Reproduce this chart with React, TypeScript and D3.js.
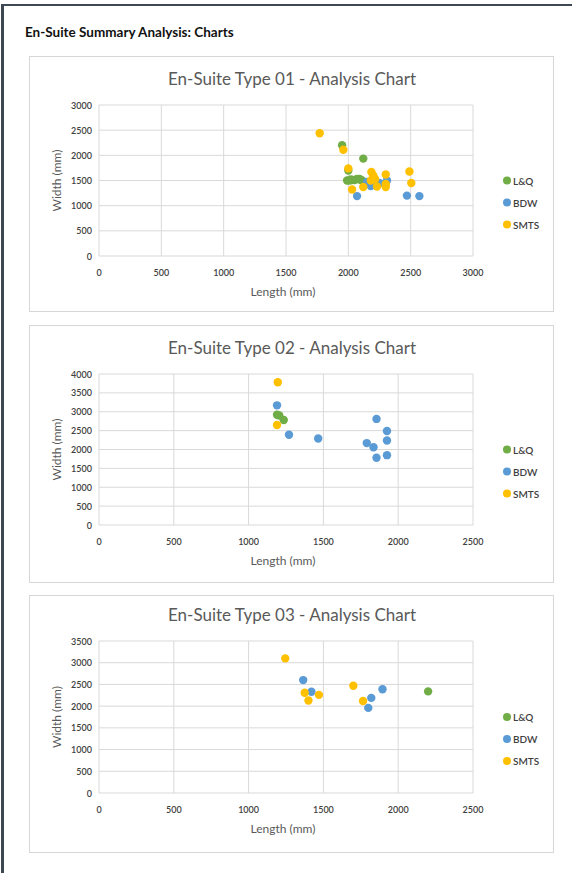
import React from "react";
import * as d3 from "d3";

type Pt = [number, number];

// Series colours and names
const seriesNames = ["L&Q", "BDW", "SMTS"];
const seriesColors = ["#70ad47", "#5b9bd5", "#ffc000"];

// En-Suite Type 01: [length, width] in mm
const type01LQ: Pt[] = [
  [1950, 2200], [2120, 1935], [2000, 1700], [1990, 1500], [2010, 1500], [2030, 1510],
  [2050, 1510], [2070, 1530], [2090, 1530], [2100, 1510], [2110, 1500], [2020, 1520],
];
const type01BDW: Pt[] = [
  [2070, 1190], [2470, 1200], [2570, 1190], [2180, 1390], [2150, 1470], [2200, 1540],
  [2310, 1500], [2250, 1450], [2190, 1420],
];
const type01SMTS: Pt[] = [
  [1770, 2440], [1960, 2110], [2000, 1740], [2030, 1320], [2120, 1370], [2185, 1670],
  [2200, 1570], [2215, 1530], [2180, 1500], [2230, 1380], [2300, 1620], [2300, 1430],
  [2300, 1370], [2490, 1680], [2505, 1450], [2200, 1600],
];

// En-Suite Type 02
const type02LQ: Pt[] = [[1190, 2920], [1205, 2900], [1235, 2780]];
const type02BDW: Pt[] = [
  [1190, 3170], [1270, 2390], [1465, 2290], [1855, 2810], [1925, 2490], [1925, 2240],
  [1790, 2170], [1835, 2060], [1855, 1780], [1925, 1850],
];
const type02SMTS: Pt[] = [[1195, 3780], [1190, 2650]];

// En-Suite Type 03
const type03LQ: Pt[] = [[2200, 2340]];
const type03BDW: Pt[] = [[1365, 2600], [1420, 2330], [1800, 1960], [1820, 2190], [1895, 2390]];
const type03SMTS: Pt[] = [
  [1245, 3100], [1375, 2310], [1400, 2130], [1470, 2260], [1700, 2470], [1765, 2120],
];

// Axis maxima and tick steps
const xMax01 = 3000, yMax01 = 3000;
const xMax02 = 2500, yMax02 = 4000;
const xMax03 = 2500, yMax03 = 3500;
const tickStep = 500;

const FONT = "Lato, 'Open Sans', sans-serif";
const TEXT = "#595959";

interface ChartProps {
  boxTop: number;
  boxBottom: number;
  plotTop: number;
  plotBottom: number;
  title: string;
  xMax: number;
  yMax: number;
  series: Pt[][];
}

function ScatterChart({ boxTop, boxBottom, plotTop, plotBottom, title, xMax, yMax, series }: ChartProps) {
  const boxLeft = 29, boxRight = 553;
  const plotLeft = 99, plotRight = 473;
  const x = d3.scaleLinear().domain([0, xMax]).range([plotLeft, plotRight]);
  const y = d3.scaleLinear().domain([0, yMax]).range([plotBottom, plotTop]);
  const xTicks = d3.range(0, xMax + 1, tickStep);
  const yTicks = d3.range(0, yMax + 1, tickStep);
  const midY = (plotTop + plotBottom) / 2;
  return (
    <g>
      <rect x={boxLeft + 1} y={boxTop + 1} width={boxRight - boxLeft} height={boxBottom - boxTop}
        fill="#ececec" />
      <rect x={boxLeft + 0.5} y={boxTop + 0.5} width={boxRight - boxLeft} height={boxBottom - boxTop}
        fill="#fff" stroke="#d6d6d6" strokeWidth={1} />
      <text x={(boxLeft + boxRight) / 2 + 1} y={plotTop - 27} textAnchor="middle" dominantBaseline="central"
        fontFamily={FONT} fontSize={17} fill={TEXT}>{title}</text>
      {xTicks.map((t) => (
        <line key={"vx" + t} x1={x(t)} x2={x(t)} y1={plotTop} y2={plotBottom} stroke="#d9d9d9" strokeWidth={1} />
      ))}
      {yTicks.map((t) => (
        <line key={"hy" + t} x1={plotLeft} x2={plotRight} y1={y(t)} y2={y(t)} stroke="#d9d9d9" strokeWidth={1} />
      ))}
      {xTicks.map((t) => (
        <text key={"tx" + t} x={x(t)} y={plotBottom + 16} textAnchor="middle" dominantBaseline="central"
          fontFamily={FONT} fontSize={9} fontWeight={600} fill="#404040">{t}</text>
      ))}
      {yTicks.map((t) => (
        <text key={"ty" + t} x={plotLeft - 7} y={y(t)} textAnchor="end" dominantBaseline="central"
          fontFamily={FONT} fontSize={9} fontWeight={600} fill="#404040">{t}</text>
      ))}
      <text x={(plotLeft + plotRight) / 2 - 3} y={plotBottom + 35} textAnchor="middle" dominantBaseline="central"
        fontFamily={FONT} fontSize={12} fill={TEXT}>Length (mm)</text>
      <text transform={`translate(56,${midY}) rotate(-90)`} textAnchor="middle" dominantBaseline="central"
        fontFamily={FONT} fontSize={12} fill={TEXT}>Width (mm)</text>
      {series.map((pts, si) => (
        <g key={"s" + si}>
          {pts.map((p, i) => (
            <circle key={i} cx={x(p[0])} cy={y(p[1])} r={4.2} fill={seriesColors[si]} />
          ))}
        </g>
      ))}
      {seriesNames.map((name, i) => (
        <g key={name}>
          <circle cx={507} cy={midY + i * 22} r={4} fill={seriesColors[i]} />
          <text x={513} y={midY + i * 22} dominantBaseline="central" fontFamily={FONT} fontSize={10}
            fontWeight={600} fill="#404040">{name}</text>
        </g>
      ))}
    </g>
  );
}

export default function App() {
  return (
    <svg width={572} height={873} style={{ position: "absolute", left: 0, top: 0, background: "#fff" }}>
      <rect x={0} y={0} width={572} height={873} fill="#fff" />
      <rect x={1} y={4} width={571} height={2} fill="#3d4853" />
      <rect x={1} y={4} width={3} height={869} fill="#3d4853" />
      <text x={25} y={32} dominantBaseline="central" fontFamily={FONT} fontSize={13.5} fontWeight={700} fill="#111">
        En-Suite Summary Analysis: Charts
      </text>
      <ScatterChart boxTop={56} boxBottom={311} plotTop={105} plotBottom={256}
        title="En-Suite Type 01 - Analysis Chart" xMax={xMax01} yMax={yMax01}
        series={[type01LQ, type01BDW, type01SMTS]} />
      <ScatterChart boxTop={325} boxBottom={582} plotTop={374} plotBottom={525}
        title="En-Suite Type 02 - Analysis Chart" xMax={xMax02} yMax={yMax02}
        series={[type02LQ, type02BDW, type02SMTS]} />
      <ScatterChart boxTop={595} boxBottom={852} plotTop={641} plotBottom={793}
        title="En-Suite Type 03 - Analysis Chart" xMax={xMax03} yMax={yMax03}
        series={[type03LQ, type03BDW, type03SMTS]} />
    </svg>
  );
}
